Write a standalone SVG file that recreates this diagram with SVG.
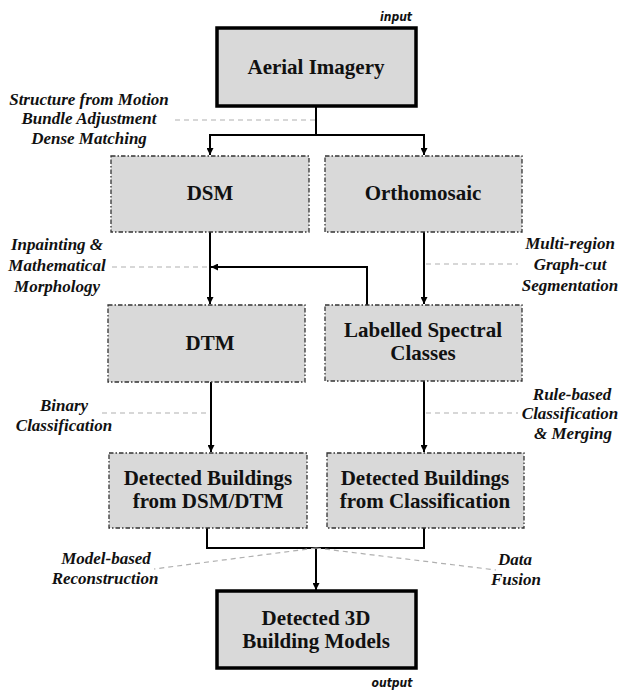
<svg xmlns="http://www.w3.org/2000/svg" width="625" height="691" viewBox="0 0 625 691">
<defs>
<style>
.thick{fill:#d9d9d9;stroke:#000;stroke-width:3.5}
.dd{fill:#d9d9d9;stroke:#333;stroke-width:1.3;stroke-dasharray:4.5 2 1.5 2}
.nt{font-family:"Liberation Serif",serif;font-weight:bold;font-size:21px;fill:#111;text-anchor:middle}
.lb{font-family:"Liberation Serif",serif;font-weight:bold;font-style:italic;font-size:17px;fill:#111;text-anchor:middle}
.io{font-family:"DejaVu Sans Condensed","DejaVu Sans",sans-serif;font-weight:bold;font-style:italic;font-size:12px;fill:#111;text-anchor:middle}
.c{fill:none;stroke:#000;stroke-width:2}
.g{fill:none;stroke:#b0b0b0;stroke-width:1.2;stroke-dasharray:5 4}
</style>
<marker id="ah" viewBox="0 0 10 10" refX="10" refY="5" markerWidth="7" markerHeight="7" markerUnits="userSpaceOnUse" orient="auto">
<path d="M0,0 L10,5 L0,10 z" fill="#000"/>
</marker>
</defs>
<rect width="625" height="691" fill="#fff"/>

<g id="connectors">
<path class="c" d="M316,106 V135 M210,135 H424"/>
<path class="c" d="M210,134 V155" marker-end="url(#ah)"/>
<path class="c" d="M424,134 V155" marker-end="url(#ah)"/>
<path class="c" d="M210,232 V304" marker-end="url(#ah)"/>
<path class="c" d="M424,232 V304" marker-end="url(#ah)"/>
<path class="c" d="M367,305 V267 H211" marker-end="url(#ah)"/>
<path class="c" d="M211,382 V452" marker-end="url(#ah)"/>
<path class="c" d="M424,381 V452" marker-end="url(#ah)"/>
<path class="c" d="M207,528 V548 H424 V528"/>
<path class="c" d="M316,547 V590" marker-end="url(#ah)"/>
<path class="g" d="M175,120 H315"/>
<path class="g" d="M112,267 H209"/>
<path class="g" d="M426,264 H518"/>
<path class="g" d="M102,413 H210"/>
<path class="g" d="M426,413 H518"/>
<path class="g" d="M316,548 L154,569"/>
<path class="g" d="M316,548 L496,570"/>
</g>

<g id="labels">
<text class="lb" x="89" y="105">Structure from Motion</text>
<text class="lb" x="89" y="124">Bundle Adjustment</text>
<text class="lb" x="89" y="144">Dense Matching</text>
<text class="lb" x="57" y="250">Inpainting &amp;</text>
<text class="lb" x="57" y="271">Mathematical</text>
<text class="lb" x="57" y="292">Morphology</text>
<text class="lb" x="570" y="249">Multi-region</text>
<text class="lb" x="570" y="270">Graph-cut</text>
<text class="lb" x="570" y="291">Segmentation</text>
<text class="lb" x="64" y="411">Binary</text>
<text class="lb" x="64" y="431">Classification</text>
<text class="lb" x="572" y="400">Rule-based</text>
<text class="lb" x="570" y="419">Classification</text>
<text class="lb" x="573" y="439">&amp; Merging</text>
<text class="lb" x="106" y="564">Model-based</text>
<text class="lb" x="105" y="584">Reconstruction</text>
<text class="lb" x="515" y="565">Data</text>
<text class="lb" x="516" y="585">Fusion</text>
<text class="io" x="396" y="21">input</text>
<text class="io" x="392" y="687">output</text>
</g>

<g id="aerial">
<rect class="thick" x="217" y="28" width="199" height="78"/>
<text class="nt" x="316" y="74">Aerial Imagery</text>
</g>
<g id="dsm">
<rect class="dd" x="111" y="156" width="198" height="76"/>
<text class="nt" x="210" y="200">DSM</text>
</g>
<g id="ortho">
<rect class="dd" x="325" y="156" width="197" height="76"/>
<text class="nt" x="423" y="200">Orthomosaic</text>
</g>
<g id="dtm">
<rect class="dd" x="108" y="305" width="197" height="77"/>
<text class="nt" x="210" y="350">DTM</text>
</g>
<g id="labelled">
<rect class="dd" x="325" y="305" width="197" height="76"/>
<text class="nt" x="423" y="337">Labelled Spectral</text>
<text class="nt" x="423" y="360">Classes</text>
</g>
<g id="det-dsm">
<rect class="dd" x="109" y="453" width="198" height="75"/>
<text class="nt" x="208" y="485">Detected Buildings</text>
<text class="nt" x="208" y="508">from DSM/DTM</text>
</g>
<g id="det-class">
<rect class="dd" x="327" y="453" width="197" height="75"/>
<text class="nt" x="425" y="485">Detected Buildings</text>
<text class="nt" x="425" y="508">from Classification</text>
</g>
<g id="models">
<rect class="thick" x="217" y="591" width="199" height="77"/>
<text class="nt" x="316" y="625">Detected 3D</text>
<text class="nt" x="316" y="648">Building Models</text>
</g>
</svg>
